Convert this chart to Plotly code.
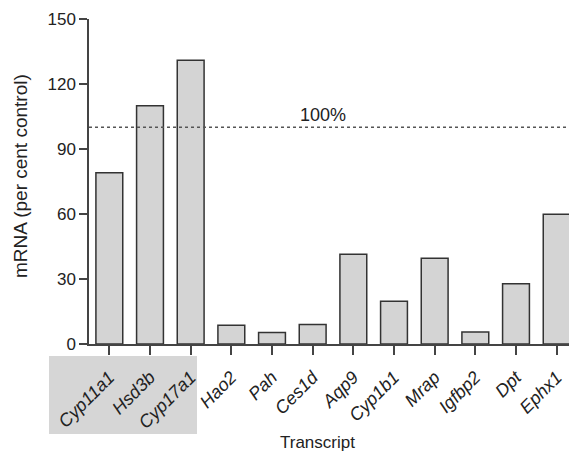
import plotly.graph_objects as go

transcripts = ["Cyp11a1", "Hsd3b", "Cyp17a1", "Hao2", "Pah", "Ces1d", "Aqp9",
               "Cyp1b1", "Mrap", "Igfbp2", "Dpt", "Ephx1"]
mrna_pct = [79, 110, 131, 8.6, 5.3, 9.0, 41.4, 19.7, 39.6, 5.5, 27.8, 59.9]
y_ticks = [0, 30, 60, 90, 120, 150]
control_level = 100

FONT = "Liberation Sans, Arial, Helvetica, sans-serif"
PAGE_W, PAGE_H = 577, 453
OFF = 8  # default body margin of the html page
# plot area in page pixel coordinates
PL, PR, PT, PB = 89, 577, 19, 344
W, H = PAGE_W - OFF, PAGE_H - OFF
L, R, T, B = PL - OFF, PAGE_W - PR, PT - OFF, PAGE_H - PB
pw, ph = PR - PL, PB - PT

def px_x(x):
    return (x - PL) / pw

def px_y(y):
    return (PB - y) / ph

fig = go.Figure()
fig.add_trace(go.Bar(
    x=list(range(len(transcripts))), y=mrna_pct, width=0.66,
    marker=dict(color="#d4d4d4", line=dict(color="#333333", width=1.5)),
))

fig.update_layout(
    width=W, height=H,
    margin=dict(l=L, r=R, t=T, b=B, autoexpand=False),
    paper_bgcolor="white", plot_bgcolor="white",
    showlegend=False, bargap=0.3,
    font=dict(family=FONT, size=17, color="#222222"),
    xaxis=dict(
        range=[-0.5, len(transcripts) - 0.5],
        tickvals=list(range(len(transcripts))), ticktext=transcripts,
        tickangle=-45, tickfont=dict(size=18, style="italic", family=FONT, color="#222222"),
        ticks="outside", ticklen=9, tickwidth=1.5, tickcolor="#444444",
        ticklabelstandoff=5,
        showline=True, linecolor="#444444", linewidth=1.5,
        showgrid=False, zeroline=False,
    ),
    yaxis=dict(
        range=[0, 150], tickvals=y_ticks,
        tickfont=dict(size=17, family=FONT, color="#222222"),
        ticks="outside", ticklen=8, tickwidth=1.5, tickcolor="#444444",
        showline=True, linecolor="#444444", linewidth=1.5,
        showgrid=False, zeroline=False,
    ),
)

# shaded box behind first three labels
fig.add_shape(type="rect", xref="paper", yref="paper",
              x0=px_x(49), x1=px_x(197), y0=px_y(434), y1=px_y(356),
              fillcolor="#d6d6d6", line=dict(width=0), layer="below")

# 100% control line
fig.add_shape(type="line", xref="paper", yref="y", x0=0, x1=1,
              y0=control_level, y1=control_level,
              line=dict(color="#555555", width=1.5, dash="dot"))
fig.add_annotation(xref="paper", yref="y", x=px_x(323), y=control_level,
                   text="100%", showarrow=False, yanchor="bottom", xanchor="center",
                   yshift=0, font=dict(size=18, family=FONT, color="#222222"))

fig.add_annotation(xref="paper", yref="paper", x=px_x(20), y=px_y(176),
                   text="mRNA (per cent control)", textangle=-90, showarrow=False,
                   xanchor="center", yanchor="middle",
                   font=dict(size=19, family=FONT, color="#222222"))
fig.add_annotation(xref="paper", yref="paper", x=px_x(317), y=px_y(442),
                   text="Transcript", showarrow=False,
                   xanchor="center", yanchor="middle",
                   font=dict(size=17, family=FONT, color="#222222"))

fig.write_html("out.html")
